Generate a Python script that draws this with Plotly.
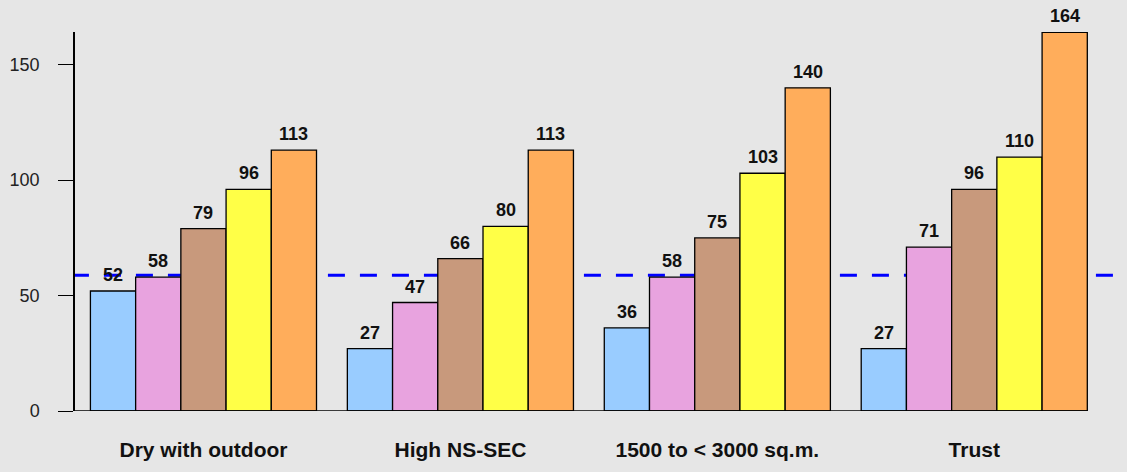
import plotly.graph_objects as go

categories = ["Dry with outdoor", "High NS-SEC", "1500 to < 3000 sq.m.", "Trust"]
series_names = ["Series 1", "Series 2", "Series 3", "Series 4", "Series 5"]
series_values = [
    [52, 27, 36, 27],
    [58, 47, 58, 71],
    [79, 66, 75, 96],
    [96, 80, 103, 110],
    [113, 113, 140, 164],
]
series_colors = ["#99CCFF", "#E8A3DF", "#C8997C", "#FFFF47", "#FFAD5B"]
reference_value = 58.8
y_ticks = [0, 50, 100, 150]

FONT = "Liberation Sans, Arial, sans-serif"
BG = "#E6E6E6"
BARGAP = 0.12
n_series = len(series_values)
bar_w = (1 - BARGAP) / n_series

fig = go.Figure()
for name, vals, col in zip(series_names, series_values, series_colors):
    fig.add_trace(go.Bar(
        x=categories, y=vals, name=name,
        marker=dict(color=col, line=dict(color="black", width=1.3)),
        hoverinfo="x+y",
    ))

# value labels above bars
for i, vals in enumerate(series_values):
    for j, v in enumerate(vals):
        fig.add_annotation(
            x=j + (i - (n_series - 1) / 2) * bar_w, y=v, xref="x", yref="y",
            text=str(v), showarrow=False, yanchor="bottom", xanchor="center",
            yshift=4,
            font=dict(family=FONT, size=18, color="#111111", weight="bold"),
        )

# reference dashed line (behind bars)
fig.add_shape(type="line", xref="x", yref="y", x0=-0.512, x1=3.545,
              y0=reference_value, y1=reference_value,
              line=dict(color="#0000FF", width=3, dash="17px,15px"), layer="below")
# baseline
fig.add_shape(type="line", xref="x", yref="y", x0=-0.5, x1=3 + (1 - BARGAP) / 2, y0=0, y1=0,
              line=dict(color="black", width=1.5), layer="above")

fig.update_layout(
    width=1127, height=472,
    margin=dict(l=75, r=14, t=32, b=61, autoexpand=False),
    paper_bgcolor=BG, plot_bgcolor=BG,
    barmode="group", bargap=BARGAP, bargroupgap=0,
    showlegend=False,
)
fig.update_xaxes(
    type="category", range=[-0.5, 3.54], showline=False, ticks="",
    showgrid=False, zeroline=False, automargin=False,
    tickfont=dict(family=FONT, size=21, color="#111111", weight="bold"),
    ticklabelstandoff=24,
)
fig.update_yaxes(
    range=[0, 164.2], tickvals=y_ticks, ticks="outside", ticklen=15,
    tickwidth=1.3, tickcolor="black", showline=True, linecolor="black",
    linewidth=1.5, showgrid=False, zeroline=False, automargin=False,
    tickfont=dict(family=FONT, size=18, color="#222222"),
    ticklabelstandoff=15,
)

fig.write_html(
    "out.html",
    config={"displayModeBar": False},
    post_script="document.body.style.margin='0';document.body.style.background='%s';" % BG,
)
